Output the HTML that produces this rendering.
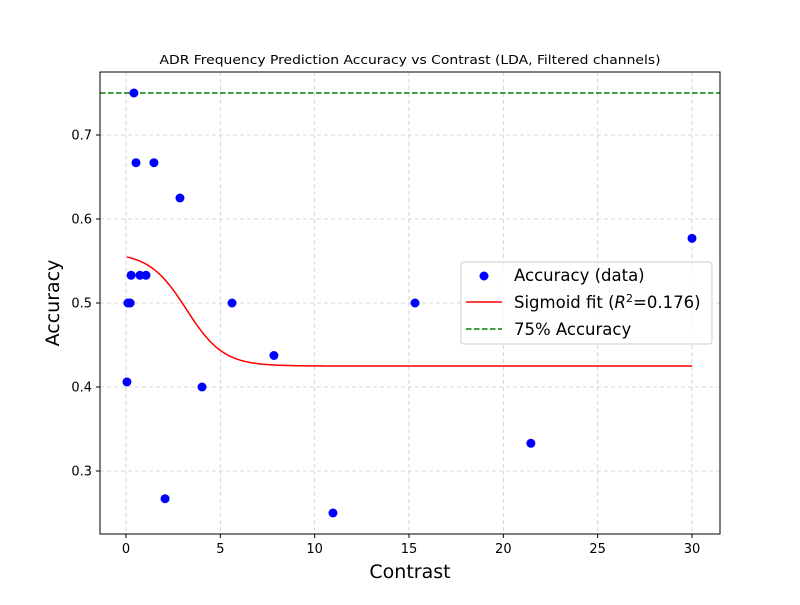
<!DOCTYPE html>
<html><head><meta charset="utf-8"><style>
body{margin:0;background:#fff;font-family:"Liberation Sans","DejaVu Sans",sans-serif;}
svg text{font-family:"DejaVu Sans","Liberation Sans",sans-serif;}
</style></head><body>
<svg id="chart" width="800" height="600" xmlns="http://www.w3.org/2000/svg">
<rect width="800" height="600" fill="#fff"/>
<g id="grid"></g>
<g id="marks"></g>
<rect x="100" y="72" width="620" height="462" fill="none" stroke="#000" stroke-width="1"/>
<g id="ticks"></g>
<text x="410" y="64" text-anchor="middle" font-size="12" textLength="501" lengthAdjust="spacingAndGlyphs">ADR Frequency Prediction Accuracy vs Contrast (LDA, Filtered channels)</text>
<text x="410" y="578" text-anchor="middle" font-size="19">Contrast</text>
<text x="59" y="303" text-anchor="middle" font-size="19" transform="rotate(-90 59 303)">Accuracy</text>
<g>
<rect x="461" y="262" width="251" height="82" rx="3" fill="#fff" fill-opacity="0.8" stroke="#ccc"/>
<circle cx="484" cy="276" r="4.5" fill="#0000ff"/>
<text x="514" y="281" font-size="16.5">Accuracy (data)</text>
<line x1="466" y1="302" x2="502" y2="302" stroke="#ff0000" stroke-width="1.5"/>
<text x="514" y="308" font-size="16.5">Sigmoid fit (<tspan font-style="italic">R</tspan><tspan dy="-6" font-size="11">2</tspan><tspan dy="6">=0.176)</tspan></text>
<line x1="466" y1="329" x2="502" y2="329" stroke="#008000" stroke-width="1.5" stroke-dasharray="5.5,2.5"/>
<text x="514" y="335" font-size="16.5">75% Accuracy</text>
</g>
</svg>
<script>
const contrast=[0.05,0.1,0.22,0.27,0.42,0.53,0.74,1.06,1.48,2.07,2.86,4.03,5.62,7.84,10.97,15.32,21.46,30];
const accuracy=[0.406,0.5,0.5,0.533,0.75,0.667,0.533,0.533,0.667,0.267,0.625,0.4,0.5,0.4375,0.25,0.5,0.333,0.577];
const xTicks=[0,5,10,15,20,25,30];
const yTicks=[0.3,0.4,0.5,0.6,0.7];
const fitParams=[0.425,0.135,1.02,3.2];
const refLine=[0.75];
const X=v=>126+(v-0)*(692-126)/30;
const Y=v=>471-(v-0.3)*840;
const NS="http://www.w3.org/2000/svg";
function mk(t,a,p){const e=document.createElementNS(NS,t);for(const k in a)e.setAttribute(k,a[k]);p.appendChild(e);return e;}
const grid=document.getElementById('grid'),marks=document.getElementById('marks'),ticks=document.getElementById('ticks');
xTicks.forEach(t=>{const x=X(t);
const g=mk('line',{x1:x,x2:x,y1:72,y2:534,stroke:'#ccc','stroke-dasharray':'4,3','stroke-width':0.8},grid);


mk('line',{x1:x,x2:x,y1:534,y2:538,stroke:'#000'},ticks);
const l=mk('text',{x:x,y:553,'text-anchor':'middle','font-size':13},ticks);l.textContent=t;

});
yTicks.forEach(t=>{const y=Y(t);
const g=mk('line',{x1:100,x2:720,y1:y,y2:y,stroke:'#ccc','stroke-dasharray':'4,3','stroke-width':0.8},grid);


mk('line',{x1:96,x2:100,y1:y,y2:y,stroke:'#000'},ticks);
const l=mk('text',{x:92,y:y+4.5,'text-anchor':'end','font-size':13},ticks);l.textContent=t.toFixed(1);

});
const rl=mk('line',{x1:100,x2:720,y1:Y(refLine[0]),y2:Y(refLine[0]),stroke:'#008000','stroke-width':1.5,'stroke-dasharray':'5.5,2.5'},marks);


const [a,b,k,x0]=fitParams;let d='';
for(let i=0;i<=300;i++){const x=0.05+i*(30-0.05)/300;const y=a+b/(1+Math.exp(k*(x-x0)));d+=(i?'L':'M')+X(x).toFixed(2)+','+Y(y).toFixed(2);}
const fp=mk('path',{d:d,fill:'none',stroke:'#ff0000','stroke-width':1.5},marks);


contrast.forEach((c,i)=>{const p=mk('circle',{cx:X(c),cy:Y(accuracy[i]),r:4.5,fill:'#0000ff'},marks);

});
</script>
</body></html>
